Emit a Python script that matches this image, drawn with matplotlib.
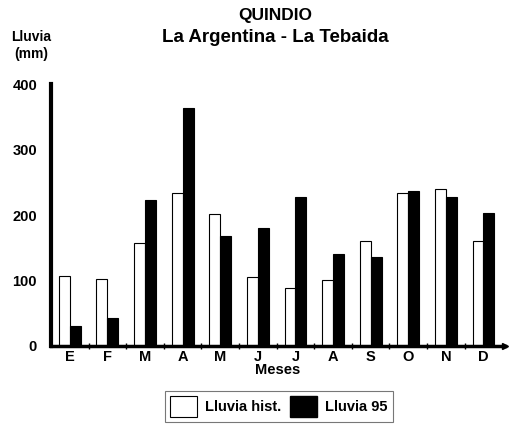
import matplotlib.pyplot as plt
import numpy as np
from matplotlib.patches import Patch

plt.rcParams['font.family'] = ['Liberation Sans', 'DejaVu Sans']
plt.rcParams['font.weight'] = 'bold'

meses = ["E", "F", "M", "A", "M", "J", "J", "A", "S", "O", "N", "D"]
lluvia_hist = [107, 103, 158, 234, 201, 106, 89, 101, 161, 233, 240, 160]
lluvia_95 = [31, 42, 223, 364, 168, 180, 228, 140, 136, 236, 227, 203]

fig = plt.figure(figsize=(5.14, 4.25), dpi=100)
ax = fig.add_axes([0.0992, 0.186, 0.883, 0.616])

x = np.arange(len(meses))
w = 0.29
ax.bar(x - w / 2, lluvia_hist, w, color="white", edgecolor="black", linewidth=0.8)
ax.bar(x + w / 2, lluvia_95, w, color="black", edgecolor="black", linewidth=0.8)

ax.set_xlim(-0.5, 11.57)
ax.set_ylim(0, 400)
ax.set_yticks([0, 100, 200, 300, 400])
ax.set_xticks(x)
ax.set_xticklabels(meses, fontsize=10.5, fontweight="bold")
ax.set_xticks(x[:-1] + 0.5, minor=True)
ax.tick_params(axis="x", which="major", length=0, pad=3)
ax.tick_params(axis="x", which="minor", length=5, width=1, direction="inout")
ax.tick_params(axis="y", length=0, pad=10, labelsize=10.5)
for lbl in ax.get_yticklabels():
    lbl.set_fontweight("bold")

for s in ["top", "right"]:
    ax.spines[s].set_visible(False)
ax.spines["left"].set_linewidth(3)
ax.spines["bottom"].set_linewidth(2.5)
ax.plot(1, 0, ">k", transform=ax.transAxes, clip_on=False, markersize=4)

ax.set_xlabel("Meses", fontsize=10.5, fontweight="bold", labelpad=-1)

fig.text(0.535, 0.963, "QUINDIO", ha="center", va="center", fontsize=12.5, fontweight="bold")
fig.text(0.535, 0.912, "La Argentina - La Tebaida", ha="center", va="center", fontsize=13.5, fontweight="bold")
fig.text(0.06, 0.893, "Lluvia\n(mm)", ha="center", va="center", fontsize=10, fontweight="bold", linespacing=1.3)

handles = [Patch(facecolor="white", edgecolor="black", linewidth=0.8, label="Lluvia hist."),
           Patch(facecolor="black", edgecolor="black", label="Lluvia 95")]
leg = fig.legend(handles=handles, loc="center", bbox_to_anchor=(0.543, 0.044), ncol=2,
                 fancybox=False, edgecolor="#555555", handlelength=1.8, handleheight=1.8,
                 columnspacing=0.6, handletextpad=0.6, borderpad=0.35,
                 prop={"weight": "bold", "size": 10.5})
leg.get_frame().set_linewidth(0.8)

fig.savefig("out.png", dpi=100)
